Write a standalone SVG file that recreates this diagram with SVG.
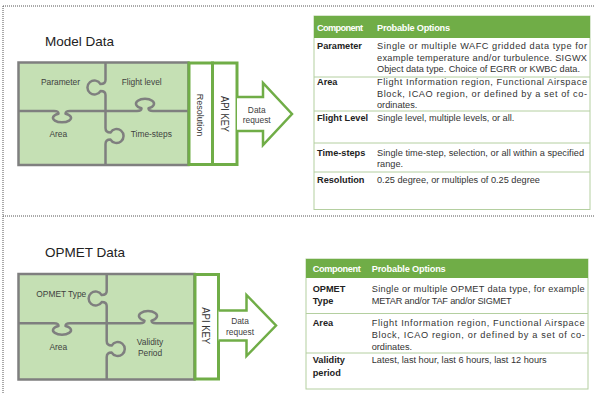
<svg xmlns="http://www.w3.org/2000/svg" width="594" height="393" viewBox="0 0 594 393">
<style>
.dot{stroke:#555;stroke-width:1;stroke-dasharray:1 1;fill:none}
.title{font-family:"Liberation Sans",Arial,sans-serif;font-size:13.5px;fill:#222}
.pz{fill:#c5e0b4;stroke:#7f7f7f;stroke-width:2.5}
.seam{fill:none;stroke:#7f7f7f;stroke-width:2.5;stroke-linejoin:round}
.pt{font-family:"Liberation Sans",Arial,sans-serif;font-size:8.4px;fill:#404040;text-anchor:middle}
.gbox{fill:#fff;stroke:#70ad47;stroke-width:3}
.arrow{fill:#fff;stroke:#70ad47;stroke-width:2.5;stroke-linejoin:miter}
.vt{font-family:"Liberation Sans",Arial,sans-serif;fill:#333;text-anchor:middle}
.tb{fill:#fff;stroke:#b4cfa0;stroke-width:1}
.hd{fill:#70ad47}
.rl{stroke:#b4cfa0;stroke-width:1}
.th{font-family:"Liberation Sans",Arial,sans-serif;font-size:9.2px;font-weight:bold;fill:#fff}
.tl{font-family:"Liberation Sans",Arial,sans-serif;font-size:9.2px;font-weight:bold;fill:#222}
.tx{font-family:"Liberation Sans",Arial,sans-serif;font-size:9.2px;fill:#333}
</style>

<g id="frame">
<line class="dot" x1="3" y1="6" x2="594" y2="6"/>
<line class="dot" x1="3" y1="6" x2="3" y2="393"/>
<line class="dot" x1="3" y1="216" x2="594" y2="216"/>
</g>

<!-- Model Data section -->
<text class="title" x="45" y="46">Model Data</text>

<g id="model-puzzle">
<rect class="pz" x="18.5" y="62.5" width="170" height="102.5"/>
<path class="seam" d="M105.5,62.5 L105.5,80 Q105.5,84 100.5,84 A7 7 0 1 0 100.5,91 Q105.5,91 105.5,95 L105.5,128 Q105.5,132.5 110.5,132.5 A7 7 0 1 1 110.5,139.5 Q105.5,139.5 105.5,144 L105.5,165"/>
<path class="seam" d="M18.5,111 L54,111 Q58.5,111 58.5,113.7 A9 4.5 0 1 0 65.5,113.7 Q65.5,111 70,111 L137,111 Q141.5,111 141.5,108.3 A9 5 0 1 1 148.5,108.3 Q148.5,111 153,111 L188,111"/>
</g>
<g id="model-parameter"><text class="pt" x="60.5" y="85">Parameter</text></g>
<g id="model-flightlevel"><text class="pt" x="141.7" y="85">Flight level</text></g>
<g id="model-area"><text class="pt" x="58.3" y="137">Area</text></g>
<g id="model-timesteps"><text class="pt" x="151.3" y="137">Time-steps</text></g>
<g id="model-resolution">
<rect class="gbox" x="189" y="63" width="23.5" height="101.5"/>
<text class="vt" font-size="9" transform="translate(197,115) rotate(90)">Resolution</text>
</g>
<g id="model-apikey">
<rect class="gbox" x="212.5" y="63" width="24.5" height="101.5"/>
<text class="vt" font-size="11" textLength="36" lengthAdjust="spacingAndGlyphs" transform="translate(220.5,114) rotate(90)">API KEY</text>
</g>

<!-- OPMET Data section -->
<text class="title" x="45" y="257" font-size="13">OPMET Data</text>

<g id="opmet-puzzle">
<rect class="pz" x="18.5" y="274" width="176" height="105.5"/>
<path class="seam" d="M106.7,274 L106.7,291 Q106.7,295 101.7,295 A7 7 0 1 0 101.7,302 Q106.7,302 106.7,306 L106.7,341 Q106.7,345.5 111.7,345.5 A7 7 0 1 1 111.7,352.5 Q106.7,352.5 106.7,357 L106.7,379.5"/>
<path class="seam" d="M18.5,323.3 L54,323.3 Q58.5,323.3 58.5,326 A9 4.5 0 1 0 65.5,326 Q65.5,323.3 70,323.3 L140,323.3 Q144.5,323.3 144.5,320.6 A9 5 0 1 1 151.5,320.6 Q151.5,323.3 156,323.3 L194.5,323.3"/>
</g>
<g id="opmet-type"><text class="pt" x="61.3" y="297">OPMET Type</text></g>
<g id="opmet-area"><text class="pt" x="58.3" y="349.7">Area</text></g>
<g id="opmet-validity"><text class="pt" x="150" y="344.5">Validity</text><text class="pt" x="150" y="355.5">Period</text></g>
<g id="opmet-apikey">
<rect class="gbox" x="195" y="274.5" width="23.5" height="104.5"/>
<text class="vt" font-size="11" textLength="37" lengthAdjust="spacingAndGlyphs" transform="translate(202,325.7) rotate(90)">API KEY</text>
</g>

<g id="connectors">
<path class="arrow" d="M237,97 L263,97 L263,83 L292,114 L263,145 L263,131 L237,131"/>
<text class="pt" x="256.7" y="112.5">Data</text>
<text class="pt" x="256.7" y="122.5">request</text>
<path class="arrow" d="M218.5,310.5 L246.5,310.5 L246.5,295 L276,325.5 L246.5,356 L246.5,340.5 L218.5,340.5"/>
<text class="pt" x="240" y="324">Data</text>
<text class="pt" x="240" y="334.5">request</text>
</g>

<!-- Table 1 -->
<g id="model-table">
<rect class="tb" x="314" y="16" width="276" height="193.5"/>
<rect class="hd" x="314" y="16" width="276" height="22"/>
<line class="rl" x1="314" y1="77" x2="590" y2="77"/>
<line class="rl" x1="314" y1="111" x2="590" y2="111"/>
<line class="rl" x1="314" y1="143" x2="590" y2="143"/>
<line class="rl" x1="314" y1="172" x2="590" y2="172"/>
<text class="th" x="317" y="30.5" textLength="46">Component</text>
<text class="th" x="377" y="30.5" textLength="73">Probable Options</text>
<text class="tl" x="317" y="49">Parameter</text>
<text class="tx" x="377" y="49" textLength="210">Single or multiple WAFC gridded data type for</text>
<text class="tx" x="377" y="60.5" textLength="210">example temperature and/or turbulence.  SIGWX</text>
<text class="tx" x="377" y="72" textLength="203">Object data type.  Choice of EGRR or KWBC data.</text>
<text class="tl" x="317" y="85">Area</text>
<text class="tx" x="377" y="85" textLength="210">Flight Information region, Functional Airspace</text>
<text class="tx" x="377" y="96.5" textLength="210">Block, ICAO region, or defined by a set of co-</text>
<text class="tx" x="377" y="108">ordinates.</text>
<text class="tl" x="317" y="120.5">Flight Level</text>
<text class="tx" x="377" y="120.5">Single level, multiple levels, or all.</text>
<text class="tl" x="317" y="155.5">Time-steps</text>
<text class="tx" x="377" y="155.5" textLength="207">Single time-step, selection, or all within a specified</text>
<text class="tx" x="377" y="167">range.</text>
<text class="tl" x="317" y="183">Resolution</text>
<text class="tx" x="377" y="183">0.25 degree, or multiples of 0.25 degree</text>
</g>

<!-- Table 2 -->
<g id="opmet-table">
<rect class="tb" x="306" y="259" width="282" height="130"/>
<rect class="hd" x="306" y="259" width="282" height="19"/>
<line class="rl" x1="306" y1="313.5" x2="588" y2="313.5"/>
<line class="rl" x1="306" y1="353" x2="588" y2="353"/>
<text class="th" x="312.7" y="271.5" textLength="48">Component</text>
<text class="th" x="371.7" y="271.5" textLength="74">Probable Options</text>
<text class="tl" x="312.7" y="291.5">OPMET</text>
<text class="tl" x="312.7" y="304">Type</text>
<text class="tx" x="371.7" y="291.5" textLength="213">Single or multiple OPMET data type, for example</text>
<text class="tx" x="371.7" y="304" textLength="140">METAR and/or TAF and/or SIGMET</text>
<text class="tl" x="312.7" y="326">Area</text>
<text class="tx" x="371.7" y="326" textLength="213">Flight Information region, Functional Airspace</text>
<text class="tx" x="371.7" y="338" textLength="213">Block, ICAO region, or defined by a set of co-</text>
<text class="tx" x="371.7" y="350">ordinates.</text>
<text class="tl" x="312.7" y="363">Validity</text>
<text class="tl" x="312.7" y="375.5">period</text>
<text class="tx" x="371.7" y="363" textLength="175">Latest, last hour, last 6 hours, last 12 hours</text>
</g>
</svg>
